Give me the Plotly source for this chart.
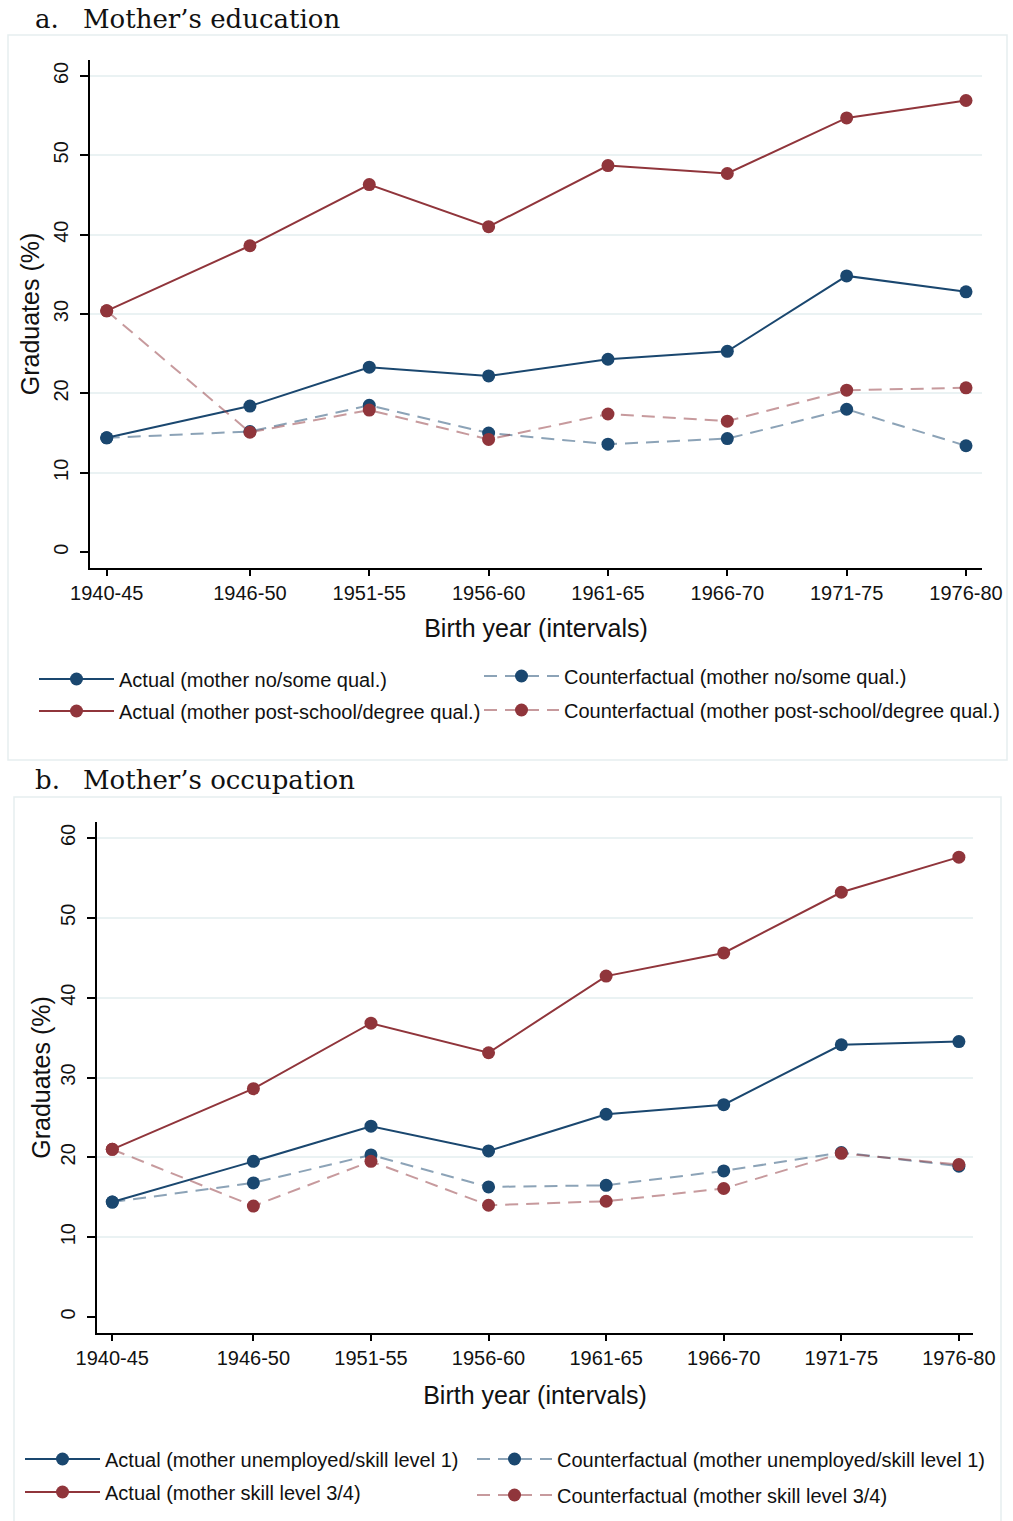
import plotly.graph_objects as go

# ---------------- data ----------------
x_pos = [1942, 1948, 1953, 1958, 1963, 1968, 1973, 1978]
tick_labels = ["1940-45", "1946-50", "1951-55", "1956-60", "1961-65", "1966-70", "1971-75", "1976-80"]
y_ticks = [0, 10, 20, 30, 40, 50, 60]

# Panel a: mother's education
a_actual_low = [14.4, 18.4, 23.3, 22.2, 24.3, 25.3, 34.8, 32.8]
a_cf_low = [14.4, 15.2, 18.5, 15.0, 13.6, 14.3, 18.0, 13.4]
a_actual_high = [30.4, 38.6, 46.3, 41.0, 48.7, 47.7, 54.7, 56.9]
a_cf_high = [30.4, 15.1, 17.9, 14.2, 17.4, 16.5, 20.4, 20.7]

# Panel b: mother's occupation
b_actual_low = [14.4, 19.5, 23.9, 20.8, 25.4, 26.6, 34.1, 34.5]
b_cf_low = [14.4, 16.8, 20.3, 16.3, 16.5, 18.3, 20.6, 18.9]
b_actual_high = [21.0, 28.6, 36.8, 33.1, 42.7, 45.6, 53.2, 57.6]
b_cf_high = [21.0, 13.9, 19.5, 14.0, 14.5, 16.1, 20.5, 19.1]

a_names = ["Actual (mother no/some qual.)", "Counterfactual (mother no/some qual.)",
           "Actual (mother post-school/degree qual.)", "Counterfactual (mother post-school/degree qual.)"]
b_names = ["Actual (mother unemployed/skill level 1)", "Counterfactual (mother unemployed/skill level 1)",
           "Actual (mother skill level 3/4)", "Counterfactual (mother skill level 3/4)"]

# ---------------- style ----------------
W, H = 1013, 1521
NAVY = "#1a476f"
MAROON = "#90353b"
NAVY_L = "rgba(26,71,111,0.5)"
MAROON_L = "rgba(144,53,59,0.5)"
SANS = "Liberation Sans, Arial, sans-serif"
SERIF = "DejaVu Serif, serif"
DASH = "13px,8px"
TXT = "#111111"


def px_x(p):
    return p / W


def px_y(p):
    return 1 - p / H


fig = go.Figure()

# legend slot (symbol-start x, row-centre y) for each series, in page pixels
a_slots = [(40, 679), (485, 676), (40, 711), (485, 710)]
b_slots = [(26, 1459), (478, 1459), (26, 1492), (478, 1495)]

legend_layouts = {}


def add_panel(series, names, xa, ya, slots, first_idx):
    colors = [(NAVY, NAVY, "solid"), (NAVY_L, NAVY, DASH), (MAROON, MAROON, "solid"), (MAROON_L, MAROON, DASH)]
    for i, (vals, name, (lc, mc, dash), (sx, sy)) in enumerate(zip(series, names, colors, slots)):
        idx = first_idx + i
        key = "legend" if idx == 1 else f"legend{idx}"
        fig.add_trace(go.Scatter(
            x=x_pos, y=vals, name=name, mode="lines+markers",
            line=dict(color=lc, width=2, dash=dash),
            marker=dict(color=mc, size=13),
            xaxis=xa, yaxis=ya, legend=key,
        ))
        legend_layouts[key] = dict(x=px_x(sx - 6), y=px_y(sy), xanchor="left", yanchor="middle",
                                   font=dict(family=SANS, size=20, color=TXT), itemwidth=75,
                                   bgcolor="rgba(0,0,0,0)", borderwidth=0)


add_panel([a_actual_low, a_cf_low, a_actual_high, a_cf_high], a_names, "x", "y", a_slots, 1)
add_panel([b_actual_low, b_cf_low, b_actual_high, b_cf_high], b_names, "x2", "y2", b_slots, 5)

axis_common = dict(showline=True, linecolor="#000000", linewidth=1.5, ticks="outside",
                   tickcolor="#000000", tickwidth=1.5, zeroline=False, automargin=False,
                   tickfont=dict(family=SANS, size=20, color=TXT))


def xaxis_cfg(standoff, rng):
    return dict(axis_common, tickvals=x_pos, ticktext=tick_labels, ticklen=6, showgrid=False, range=rng,
                title=dict(text="Birth year (intervals)", font=dict(family=SANS, size=25, color=TXT),
                           standoff=standoff))


def yaxis_cfg(standoff):
    return dict(axis_common, tickvals=y_ticks, ticklen=8, tickangle=-90, range=[-2, 62],
                showgrid=False, ticklabelstandoff=4,
                minor=dict(tickvals=y_ticks[1:], showgrid=True, gridcolor="#eaf2f3", gridwidth=1.5, ticks=""),
                title=dict(text="Graduates (%)", font=dict(family=SANS, size=25, color=TXT), standoff=standoff))


fig.update_layout(
    width=W, height=H,
    margin=dict(l=0, r=0, t=0, b=0, autoexpand=False),
    paper_bgcolor="white", plot_bgcolor="white",
    xaxis=dict(xaxis_cfg(17, [1941.3, 1978.67]), domain=[px_x(90), px_x(982)], anchor="y"),
    yaxis=dict(yaxis_cfg(4), domain=[px_y(568), px_y(60)], anchor="x"),
    xaxis2=dict(xaxis_cfg(19, [1941.35, 1978.6]), domain=[px_x(97), px_x(973)], anchor="y2"),
    yaxis2=dict(yaxis_cfg(0), domain=[px_y(1333), px_y(822)], anchor="x2"),
    showlegend=True,
)
fig.update_layout(**legend_layouts)

# panel frames
fig.add_shape(type="rect", xref="paper", yref="paper", x0=px_x(8), x1=px_x(1007), y0=px_y(760), y1=px_y(35),
              line=dict(color="#e6eef0", width=1.5), fillcolor="rgba(0,0,0,0)", layer="below")
fig.add_shape(type="rect", xref="paper", yref="paper", x0=px_x(14), x1=px_x(1001), y0=px_y(1540), y1=px_y(797),
              line=dict(color="#e6eef0", width=1.5), fillcolor="rgba(0,0,0,0)", layer="below")

# panel titles
for lbl, txt, xl, xt, yc in [("a.", "Mother’s education", 33, 81, 19), ("b.", "Mother’s occupation", 33, 81, 780)]:
    fig.add_annotation(text=lbl, xref="paper", yref="paper", x=px_x(xl), y=px_y(yc), xanchor="left",
                       yanchor="middle", showarrow=False, font=dict(family=SERIF, size=26, color=TXT))
    fig.add_annotation(text=txt, xref="paper", yref="paper", x=px_x(xt), y=px_y(yc), xanchor="left",
                       yanchor="middle", showarrow=False, font=dict(family=SERIF, size=26, color=TXT))

fig.write_html("out.html", config={"displayModeBar": False},
               post_script="document.body.style.margin='0';")
